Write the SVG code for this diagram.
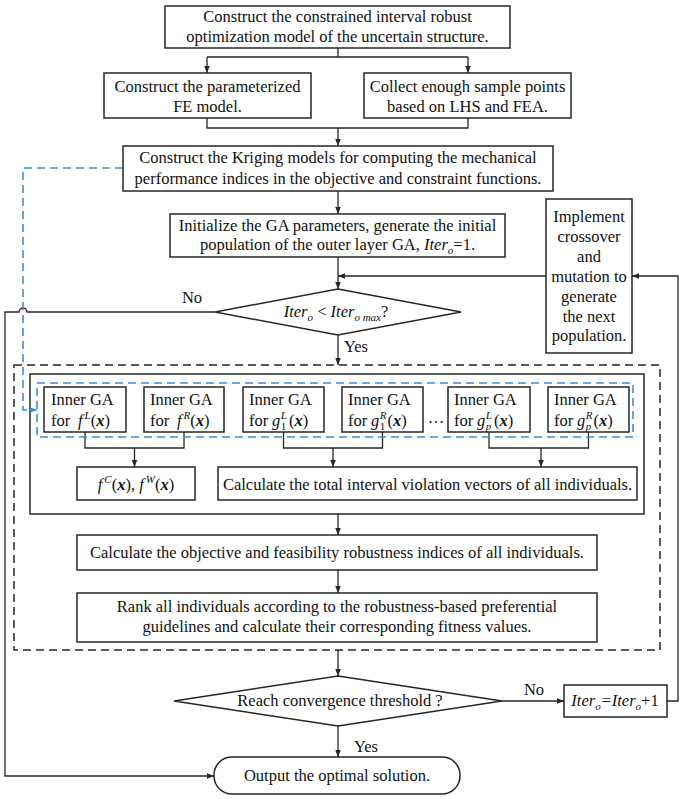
<svg xmlns="http://www.w3.org/2000/svg" width="685" height="799" viewBox="0 0 685 799">
<style>
.bx{fill:#fff;stroke:#262626;stroke-width:1.5}
.t{font-family:"Liberation Serif","Times New Roman",serif;font-size:16.5px;fill:#111;text-anchor:middle}
.s{text-anchor:start}
.i{font-style:italic}
.b{font-weight:bold;font-style:italic}
.sm{font-size:11px}
.ln{fill:none;stroke:#262626;stroke-width:1.3}
.dl{fill:none;stroke:#262626;stroke-width:1.5;stroke-dasharray:8 5}
.bl{fill:none;stroke:#3a8ddc;stroke-width:1.6;stroke-dasharray:8 5}
</style>
<defs>
<marker id="ah" viewBox="0 0 10 10" refX="10" refY="5" markerWidth="8" markerHeight="7" markerUnits="userSpaceOnUse" orient="auto"><path d="M0,1 L10,5 L0,9 z" fill="#262626"/></marker>
<marker id="bh" viewBox="0 0 10 10" refX="10" refY="5" markerWidth="8" markerHeight="7" markerUnits="userSpaceOnUse" orient="auto"><path d="M0,1 L10,5 L0,9 z" fill="#3a8ddc"/></marker>
</defs>

<g id="frames">
<rect class="dl" x="14" y="365" width="646" height="285"/>
<rect class="bx" style="fill:none" x="30" y="374" width="614" height="140"/>
</g>

<g id="connectors">
<path class="ln" d="M338,48 V57 M207,57 H468"/>
<path class="ln" d="M207,57 V73" marker-end="url(#ah)"/>
<path class="ln" d="M468,57 V73" marker-end="url(#ah)"/>
<path class="ln" d="M207,118 V128 H468 V118"/>
<path class="ln" d="M338,128 V146" marker-end="url(#ah)"/>
<path class="ln" d="M338,191 V214" marker-end="url(#ah)"/>
<path class="ln" d="M338,257 V289" marker-end="url(#ah)"/>
<path class="ln" d="M546,276 H338" marker-end="url(#ah)"/>
<path class="ln" d="M215,312 H27 A4,4 0 0 0 19,312 H5 V776 H214" marker-end="url(#ah)"/>
<path class="ln" d="M338,335 V365" marker-end="url(#ah)"/>
<path class="ln" d="M85,432 V448 H184 V432"/>
<path class="ln" d="M134.5,448 V467" marker-end="url(#ah)"/>
<path class="ln" d="M283.5,432 V448 H382.5 V432"/>
<path class="ln" d="M333,448 V467" marker-end="url(#ah)"/>
<path class="ln" d="M489,432 V448 H588.5 V432"/>
<path class="ln" d="M541,448 V467" marker-end="url(#ah)"/>
<path class="ln" d="M338,514 V535" marker-end="url(#ah)"/>
<path class="ln" d="M338,570 V593" marker-end="url(#ah)"/>
<path class="ln" d="M338,650 V676" marker-end="url(#ah)"/>
<path class="ln" d="M502,701 H564" marker-end="url(#ah)"/>
<path class="ln" d="M667,701 H678 V276 H632" marker-end="url(#ah)"/>
<path class="ln" d="M338,726 V757" marker-end="url(#ah)"/>
<path class="bl" d="M123,168 H23 V410 H37" marker-end="url(#bh)"/>
<text class="t" x="192" y="303">No</text>
<text class="t s" x="344" y="352">Yes</text>
<text class="t" x="534" y="695">No</text>
<text class="t s" x="354" y="752">Yes</text>
</g>

<g id="n_top">
<rect class="bx" x="165" y="6" width="345" height="42"/>
<text class="t" x="337.5" y="22">Construct the constrained interval robust</text>
<text class="t" x="337.5" y="42">optimization model of the uncertain structure.</text>
</g>
<g id="n_fe">
<rect class="bx" x="104" y="73" width="207" height="45"/>
<text class="t" x="207.5" y="92">Construct the parameterized</text>
<text class="t" x="207.5" y="112">FE model.</text>
</g>
<g id="n_lhs">
<rect class="bx" x="364" y="73" width="207" height="45"/>
<text class="t" x="467.5" y="92">Collect enough sample points</text>
<text class="t" x="467.5" y="112">based on LHS and FEA.</text>
</g>
<g id="n_kriging">
<rect class="bx" x="123" y="146" width="430" height="45"/>
<text class="t" x="338" y="163">Construct the Kriging models for computing the mechanical</text>
<text class="t" x="338" y="184">performance indices in the objective and constraint functions.</text>
</g>
<g id="n_init">
<rect class="bx" x="170" y="214" width="335" height="43"/>
<text class="t" x="337.5" y="231">Initialize the GA parameters, generate the initial</text>
<text class="t" x="337.5" y="250">population of the outer layer GA, <tspan class="i">Iter</tspan><tspan class="i sm" dy="4">o</tspan><tspan dy="-4">=1.</tspan></text>
</g>
<g id="n_cross">
<rect class="bx" x="546" y="199" width="86" height="154"/>
<text class="t" x="589" y="222">Implement</text>
<text class="t" x="589" y="242">crossover</text>
<text class="t" x="589" y="262">and</text>
<text class="t" x="589" y="282">mutation to</text>
<text class="t" x="589" y="302">generate</text>
<text class="t" x="589" y="322">the next</text>
<text class="t" x="589" y="341">population.</text>
</g>
<g id="n_dec1">
<polygon class="bx" points="338,289 461,312 338,335 215,312"/>
<text class="t" x="336" y="317"><tspan class="i">Iter</tspan><tspan class="i sm" dy="4">o</tspan><tspan dy="-4"> &lt; </tspan><tspan class="i">Iter</tspan><tspan class="i sm" dy="4">o max</tspan><tspan dy="-4">?</tspan></text>
</g>

<g id="n_inner">
<rect class="bl" x="37" y="383" width="596" height="54"/>
<g id="ga1">
<rect class="bx" x="44" y="387" width="82" height="45"/>
<text class="t s" x="51" y="405">Inner GA</text>
<text class="t s" x="51" y="426">for<tspan class="i" x="78">f</tspan><tspan class="i sm" dx="2" dy="-7">L</tspan><tspan dy="7">(</tspan><tspan class="b">x</tspan>)</text>
</g>
<g id="ga2">
<rect class="bx" x="144" y="387" width="80" height="45"/>
<text class="t s" x="150" y="405">Inner GA</text>
<text class="t s" x="150" y="426">for<tspan class="i" x="177">f</tspan><tspan class="i sm" dx="2" dy="-7">R</tspan><tspan dy="7">(</tspan><tspan class="b">x</tspan>)</text>
</g>
<g id="ga3">
<rect class="bx" x="243" y="387" width="81" height="45"/>
<text class="t s" x="249" y="405">Inner GA</text>
<text class="t s" x="249" y="426">for<tspan class="i" x="272">g</tspan><tspan class="sm" dx="0.5" dy="4">1</tspan><tspan class="i sm" dx="-5.5" dy="-11">L</tspan><tspan dx="2" dy="7">(</tspan><tspan class="b">x</tspan>)</text>
</g>
<g id="ga4">
<rect class="bx" x="342" y="387" width="81" height="45"/>
<text class="t s" x="348" y="405">Inner GA</text>
<text class="t s" x="348" y="426">for<tspan class="i" x="371">g</tspan><tspan class="sm" dx="0.5" dy="4">1</tspan><tspan class="i sm" dx="-5.5" dy="-11">R</tspan><tspan dx="1" dy="7">(</tspan><tspan class="b">x</tspan>)</text>
</g>
<text class="t" x="436" y="423">…</text>
<g id="ga5">
<rect class="bx" x="448" y="387" width="82" height="45"/>
<text class="t s" x="454" y="405">Inner GA</text>
<text class="t s" x="454" y="426">for<tspan class="i" x="477">g</tspan><tspan class="i sm" dx="0.5" dy="4">p</tspan><tspan class="i sm" dx="-5.5" dy="-11">L</tspan><tspan dx="2" dy="7">(</tspan><tspan class="b">x</tspan>)</text>
</g>
<g id="ga6">
<rect class="bx" x="548" y="387" width="81" height="45"/>
<text class="t s" x="554" y="405">Inner GA</text>
<text class="t s" x="554" y="426">for<tspan class="i" x="577">g</tspan><tspan class="i sm" dx="0.5" dy="4">p</tspan><tspan class="i sm" dx="-5.5" dy="-11">R</tspan><tspan dx="1" dy="7">(</tspan><tspan class="b">x</tspan>)</text>
</g>
</g>

<g id="n_fcw">
<rect class="bx" x="77" y="467" width="118" height="33"/>
<text class="t" x="136" y="490"><tspan class="i">f</tspan><tspan class="i sm" dx="2" dy="-7">C</tspan><tspan dy="7">(</tspan><tspan class="b">x</tspan>), <tspan class="i">f</tspan><tspan class="i sm" dx="2" dy="-7">W</tspan><tspan dy="7">(</tspan><tspan class="b">x</tspan>)</text>
</g>
<g id="n_total">
<rect class="bx" x="218" y="467" width="419" height="33"/>
<text class="t" x="427.5" y="490">Calculate the total interval violation vectors of all individuals.</text>
</g>
<g id="n_obj">
<rect class="bx" x="77" y="535" width="520" height="35"/>
<text class="t" x="337" y="558">Calculate the objective and feasibility robustness indices of all individuals.</text>
</g>
<g id="n_rank">
<rect class="bx" x="77" y="593" width="520" height="49"/>
<text class="t" x="337" y="612">Rank all individuals according to the robustness-based preferential</text>
<text class="t" x="337" y="632">guidelines and calculate their corresponding fitness values.</text>
</g>
<g id="n_dec2">
<polygon class="bx" points="338,676 502,701 338,726 174,701"/>
<text class="t" x="340" y="706">Reach convergence threshold ?</text>
</g>
<g id="n_iter">
<rect class="bx" x="564" y="685" width="103" height="32"/>
<text class="t" x="615" y="706"><tspan class="i">Iter</tspan><tspan class="i sm" dy="4">o</tspan><tspan class="i" dy="-4">=Iter</tspan><tspan class="i sm" dy="4">o</tspan><tspan dy="-4">+1</tspan></text>
</g>
<g id="n_out">
<rect class="bx" x="214" y="757" width="246" height="37" rx="18"/>
<text class="t" x="337" y="781">Output the optimal solution.</text>
</g>
</svg>
